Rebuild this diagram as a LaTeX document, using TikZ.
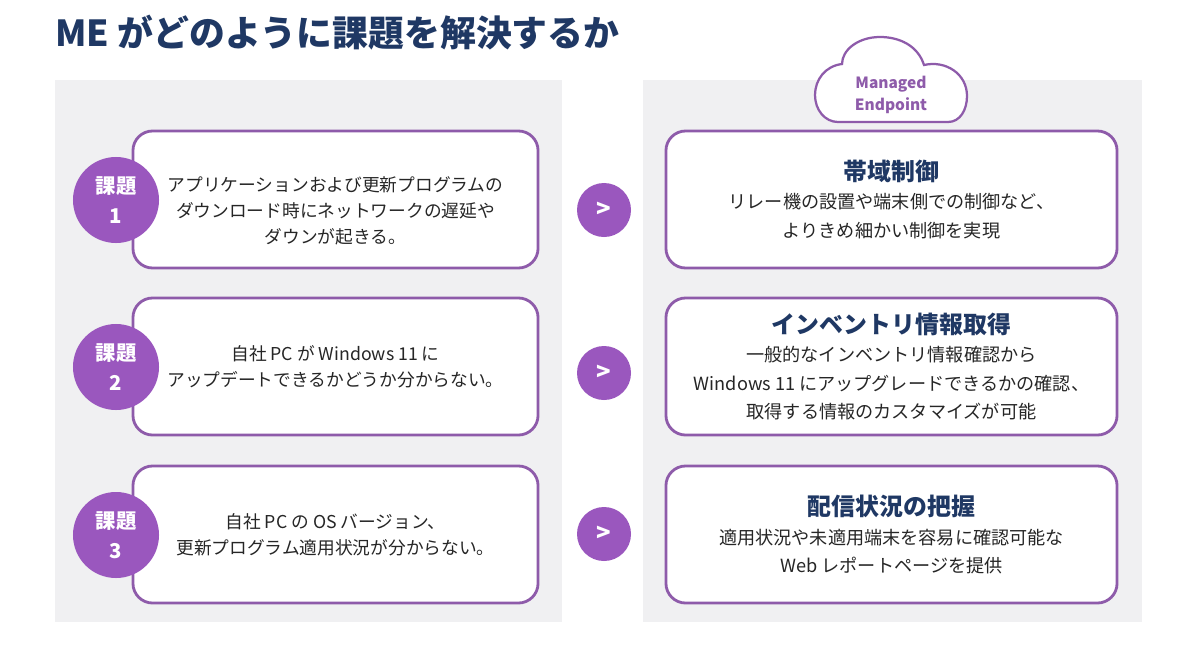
\documentclass[tikz,border=0pt]{standalone}
\usepackage{fontspec}
\setmainfont{Noto Sans CJK JP}
\definecolor{meNavy}{HTML}{1F3864}
\definecolor{mePurple}{HTML}{8E5BAA}
\definecolor{meBadge}{HTML}{9A57BE}
\definecolor{mePanel}{HTML}{F0F0F2}
\definecolor{meText}{HTML}{262626}
\newcommand\mehead[1]{{\fontsize{17}{22}\selectfont\bfseries\color{meNavy}#1}}
\begin{document}
\begin{tikzpicture}[x=0.025cm,y=-0.025cm,
  panel/.style={fill=mePanel,draw=none},
  issuebox/.style={draw=mePurple,line width=2pt,fill=white,rounded corners=14pt,
    minimum width=10.125cm,minimum height=3.425cm,align=center,text=meText,
    font=\fontsize{12.6}{18.5}\selectfont},
  answerbox/.style={issuebox,minimum width=11.275cm,font=\fontsize{12.9}{20}\selectfont},
  badge/.style={circle,fill=meBadge,minimum size=2.15cm,inner sep=0pt,align=center,
    text=white,font=\fontsize{14.5}{21}\selectfont\bfseries},
  nextmark/.style={circle,fill=meBadge,minimum size=1.35cm,inner sep=0pt,
    text=white,font=\fontsize{17}{19}\selectfont\bfseries}]
\useasboundingbox[fill=white] (0,0) rectangle (1200,652);
% title
\node[anchor=west,inner sep=0pt,text=meNavy,font=\fontsize{25.5}{30}\selectfont\bfseries] (title) at (55,33) {ME がどのように課題を解決するか};
% panels
\fill[panel] (55,80) rectangle (562,622);
\fill[panel] (643,80) rectangle (1142,622);
% cloud
\draw[draw=mePurple,line width=1.6pt,fill=white] (838,122) -- (948,122)
  .. controls (960,122) and (967,110) .. (967,96)
  .. controls (967,74) and (946,60) .. (924,65)
  .. controls (918,46) and (900,37) .. (880,37)
  .. controls (858,37) and (842,50) .. (842,64)
  .. controls (825,66) and (815,80) .. (815,95)
  .. controls (815,110) and (825,122) .. (838,122) -- cycle;
\node[align=center,text=mePurple,font=\fontsize{11}{15.5}\selectfont\bfseries] (cloudtxt) at (891,95) {Managed\\Endpoint};
% issues
\node[issuebox] (issue1) at (335.5,199.5) {\rule{0pt}{27pt}アプリケーションおよび更新プログラムの\\ダウンロード時にネットワークの遅延や\\ダウンが起きる。};
\node[issuebox] (issue2) at (335.5,366.5) {自社 PC が Windows 11 に\\アップデートできるかどうか分からない。};
\node[issuebox] (issue3) at (335.5,534.5) {自社 PC の OS バージョン、\\更新プログラム適用状況が分からない。};
\node[badge] (badge1) at (116,200) {課題\\1};
\node[badge] (badge2) at (116,367) {課題\\2};
\node[badge] (badge3) at (116,535) {課題\\3};
% arrows
\node[nextmark] (next1) at (604,210) {>};
\node[nextmark] (next2) at (604,373) {>};
\node[nextmark] (next3) at (604,534) {>};
% answers
\node[answerbox] (answer1) at (891.5,199.5) {\mehead{帯域制御}\\リレー機の設置や端末側での制御など、\\よりきめ細かい制御を実現};
\node[answerbox] (answer2) at (891.5,366.5) {\mehead{インベントリ情報取得}\\一般的なインベントリ情報確認から\\Windows 11 にアップグレードできるかの確認、\\取得する情報のカスタマイズが可能};
\node[answerbox] (answer3) at (891.5,534.5) {\mehead{配信状況の把握}\\適用状況や未適用端末を容易に確認可能な\\Web レポートページを提供};
\end{tikzpicture}
\end{document}
